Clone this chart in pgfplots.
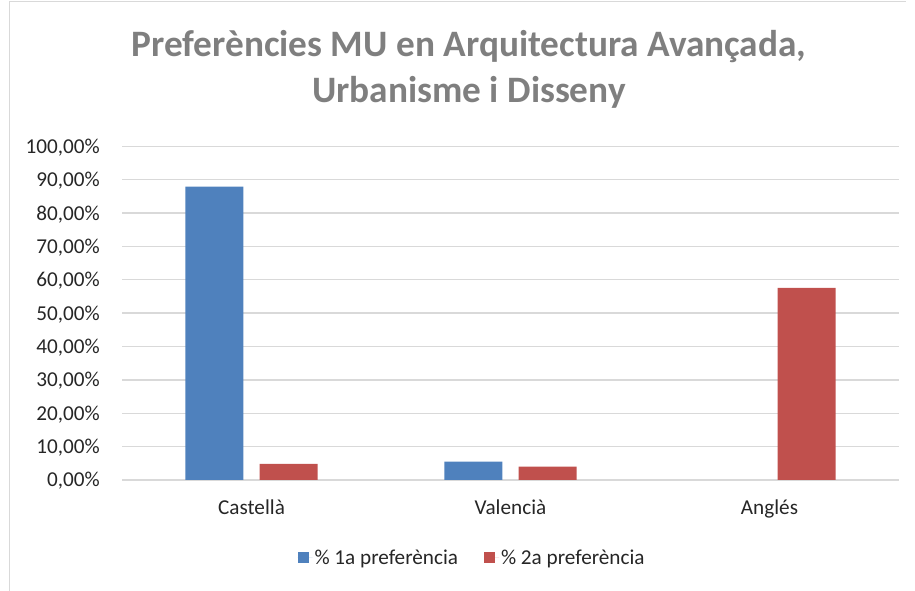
\documentclass[border=0pt]{standalone}
\usepackage{fontspec}
\setmainfont{Carlito}
\usepackage{pgfplots}
\pgfplotsset{compat=1.18}
\definecolor{blueA}{HTML}{4F81BD}
\definecolor{redA}{HTML}{C0504D}
\definecolor{gridc}{HTML}{D9D9D9}
\definecolor{titlec}{HTML}{7F7F7F}
\definecolor{labc}{HTML}{262626}
\begin{document}
\begin{tikzpicture}[x=1bp,y=1bp]
\useasboundingbox (0,0) rectangle (915,591);
\draw[gridc, line width=1bp] (9,0) -- (9,589) -- (906,589);
\node[anchor=base, text=titlec, font=\fontsize{37.3bp}{40bp}\selectfont\bfseries, inner sep=0pt] at (469,534.5) {Preferències MU en Arquitectura Avançada,};
\node[anchor=base, text=titlec, font=\fontsize{37.3bp}{40bp}\selectfont\bfseries, inner sep=0pt] at (469,488.5) {Urbanisme i Disseny};
\begin{axis}[
  at={(122bp,111bp)}, anchor=south west,
  scale only axis, width=777bp, height=333.7bp,
  xmin=-0.5, xmax=2.5, ymin=0, ymax=100,
  axis line style={draw=none},
  major tick length=0pt,
  ymajorgrids, grid style={gridc, line width=1.3bp},
  xtick={0,1,2}, xticklabels={Castellà,Valencià,Anglés},
  ytick={0,10,...,100},
  yticklabels={{0,00\%},{10,00\%},{20,00\%},{30,00\%},{40,00\%},{50,00\%},{60,00\%},{70,00\%},{80,00\%},{90,00\%},{100,00\%}},
  ticklabel style={font=\fontsize{21.2bp}{24bp}\selectfont, text=labc, inner sep=0pt},
  yticklabel style={anchor=base east, xshift=-22bp, yshift=-7bp},
  xticklabel style={anchor=base, yshift=-35bp},
  ybar, bar width=0.224,
  legend columns=2,
  legend style={draw=none, at={(0.4505,-0.2337)}, anchor=center,
    font=\fontsize{21.2bp}{24bp}\selectfont, text=labc,
    /tikz/every even column/.append style={column sep=24bp}},
  legend image code/.code={\fill[#1] (0bp,-5.5bp) rectangle (11bp,5.5bp); \path (0bp,0bp) -- (15bp,0bp);},
  legend cell align=left,
]
\addplot[fill=blueA, draw=none, bar shift=-0.143] coordinates {(0,87.9) (1,5.5)};
\addplot[fill=redA, draw=none, bar shift=0.143] coordinates {(0,4.8) (1,4.0) (2,57.6)};
\legend{\% 1a preferència, \% 2a preferència}
\end{axis}
\end{tikzpicture}
\end{document}
